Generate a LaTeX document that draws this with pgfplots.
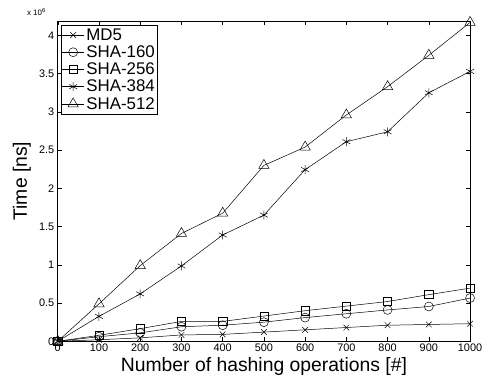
\documentclass[border=0pt]{standalone}
\usepackage{fontspec}
\setmainfont{Liberation Sans}
\usepackage{pgfplots}
\pgfplotsset{compat=1.18}

\begin{document}
\begin{tikzpicture}
% fixed page frame around the 414 x 321.7 plot box
\useasboundingbox (-58bp,-39.3bp) rectangle (426bp,342.7bp);
\begin{axis}[
  at={(0,0)}, anchor=south west,
  scale only axis,
  width=414bp, height=321.7bp,
  xmin=0, xmax=1000, ymin=0, ymax=4.19,
  xtick={0,100,...,1000},
  ytick={0,0.5,...,4},
  yticklabels={0,0.5,1,1.5,2,2.5,3,3.5,4},
  /pgf/number format/1000 sep={},
  tick align=inside,
  major tick length=4bp,
  axis line style={line width=0.8pt},
  every tick/.style={black, line width=0.5pt},
  /pgf/number format/assume math mode=true,
  ticklabel style={font=\fontsize{11}{12}\selectfont},
  xticklabel style={yshift=1bp, inner xsep=1bp},
  yticklabel style={xshift=0bp},
  xlabel={Number of hashing operations [\#]},
  ylabel={Time [ns]},
  label style={font=\fontsize{19.5}{21}\selectfont},
  xlabel style={at={(axis description cs:0.5,-0.078)}, anchor=center},
  ylabel style={at={(axis description cs:-0.087,0.5)}, anchor=center},
  legend style={at={(0.007,0.988)}, anchor=north west, draw=black, line width=0.6pt,
    font=\fontsize{17}{19.5}\selectfont, inner xsep=1bp, inner ysep=1.5bp,
    row sep=0bp, cells={anchor=west}},
  legend cell align=left,
  legend image code/.code={
    \draw[mark repeat=2,mark phase=2] plot coordinates {(0bp,0bp) (11bp,0bp) (22bp,0bp)};
  },
  every axis plot/.append style={black, line width=0.5pt, mark options={solid, line width=0.5pt, fill=none}},
  clip=false,
]
\node[anchor=south west, font=\fontsize{8}{9}\selectfont, inner sep=0pt] at (axis description cs:-0.075,1.016) {x 10$^{\mathrm{6}}$};

\addplot[mark=x, mark size=4bp] coordinates {
 (0,0) (100,0.02) (200,0.045) (300,0.083) (400,0.09) (500,0.12)
 (600,0.15) (700,0.18) (800,0.21) (900,0.22) (1000,0.23)};
\addlegendentry{MD5}

\addplot[mark=o, mark size=4.5bp] coordinates {
 (0,0) (100,0.06) (200,0.11) (300,0.19) (400,0.21) (500,0.25)
 (600,0.31) (700,0.36) (800,0.41) (900,0.455) (1000,0.565)};
\addlegendentry{SHA-160}

\addplot[mark=square, mark size=4.1bp] coordinates {
 (0,0) (100,0.078) (200,0.165) (300,0.26) (400,0.26) (500,0.33)
 (600,0.40) (700,0.46) (800,0.52) (900,0.61) (1000,0.695)};
\addlegendentry{SHA-256}

\addplot[mark=asterisk, mark size=4.5bp] coordinates {
 (0,0) (100,0.326) (200,0.62) (300,0.985) (400,1.39) (500,1.65)
 (600,2.245) (700,2.61) (800,2.74) (900,3.25) (1000,3.53)};
\addlegendentry{SHA-384}

\addplot[mark=triangle, mark size=6bp] coordinates {
 (0,0) (100,0.49) (200,0.99) (300,1.41) (400,1.675) (500,2.30)
 (600,2.54) (700,2.96) (800,3.33) (900,3.74) (1000,4.17)};
\addlegendentry{SHA-512}
\end{axis}
\end{tikzpicture}
\end{document}
